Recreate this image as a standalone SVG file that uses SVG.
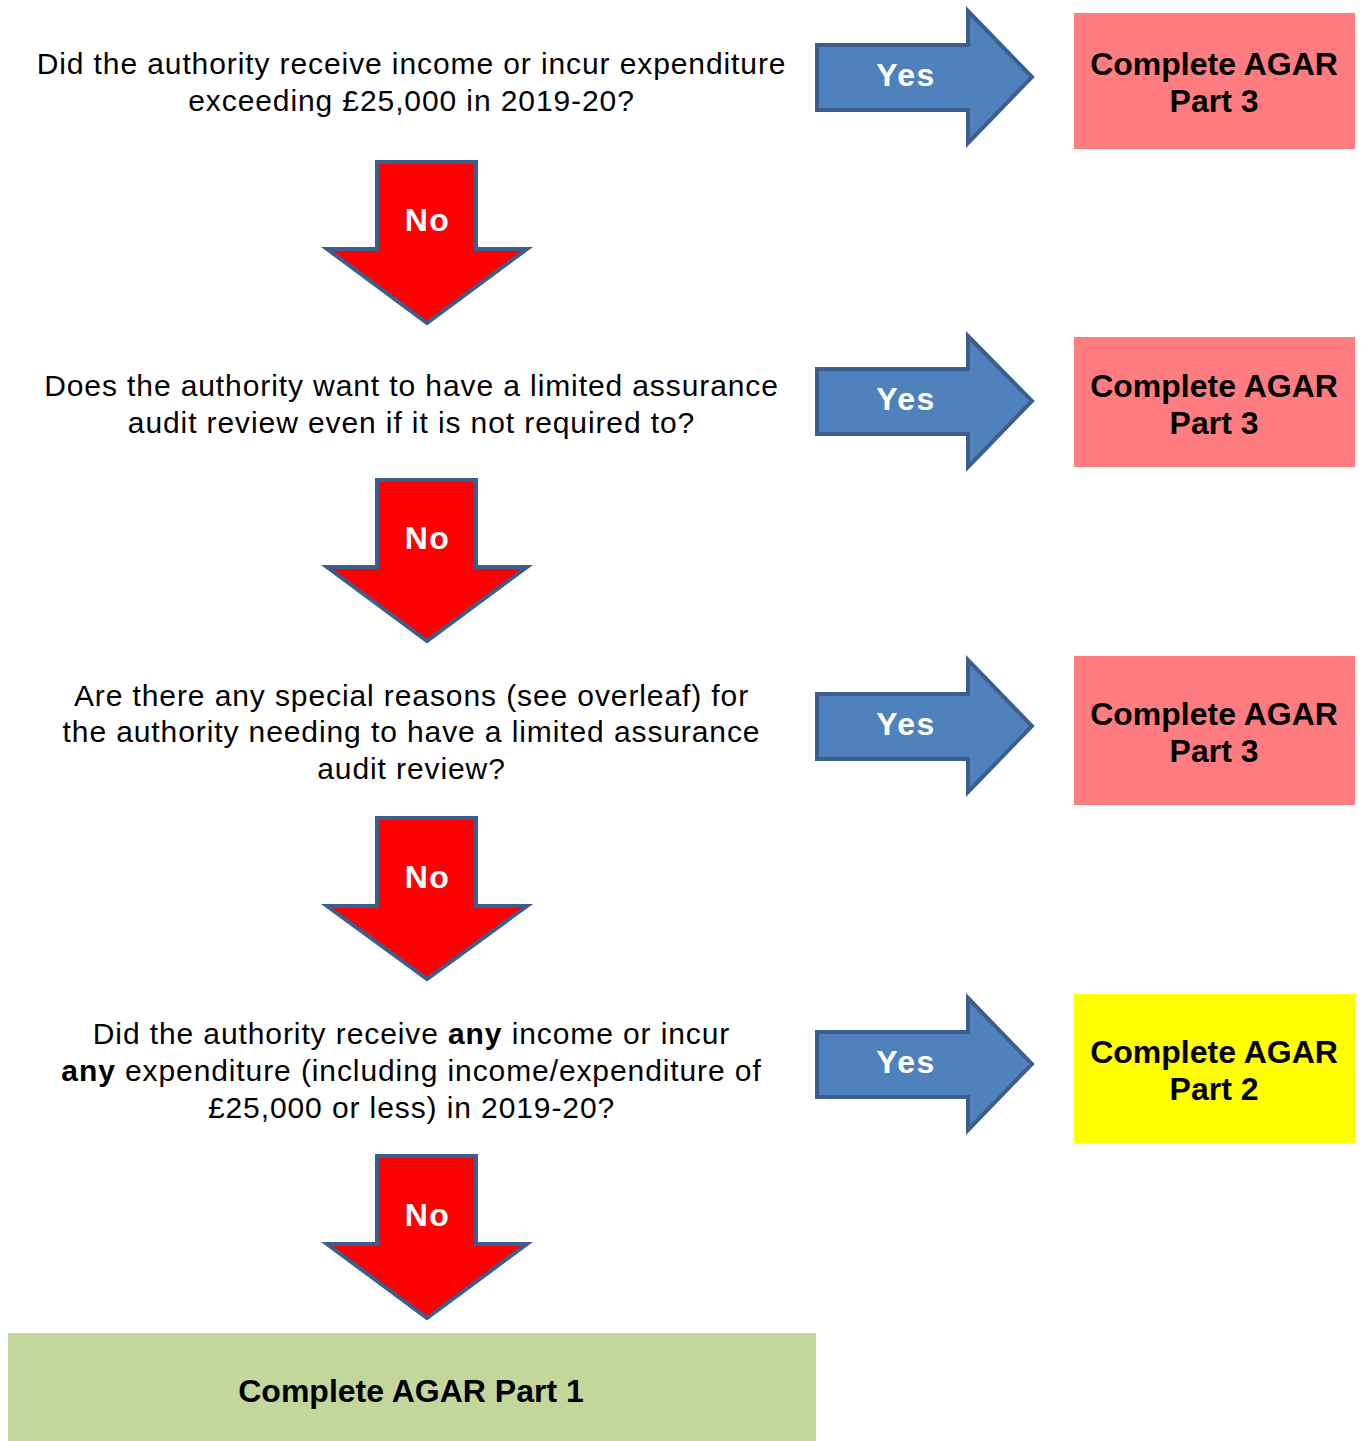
<svg xmlns="http://www.w3.org/2000/svg" width="1361" height="1441" viewBox="0 0 1361 1441">
<style>
.q{font-family:"Liberation Sans",Arial,sans-serif;font-size:30px;letter-spacing:0.9px;fill:#000;text-anchor:middle}
.b{font-weight:bold}
.lab{font-family:"Liberation Sans",Arial,sans-serif;font-size:32px;letter-spacing:1.5px;font-weight:bold;fill:#fff;text-anchor:middle}
.bt{font-family:"Liberation Sans",Arial,sans-serif;font-size:32px;font-weight:bold;fill:#000;text-anchor:middle}
.yes{fill:#4f81bd;stroke:#3b5e8c;stroke-width:4;stroke-linejoin:miter}
.no{fill:#ff0000;stroke:#3b5e8c;stroke-width:4;stroke-linejoin:miter}
</style>
<rect width="1361" height="1441" fill="#fff"/>
<g id="connectors">
<g id="yes1"><polygon class="yes" points="817,45 968,45 968,11 1032,77 968,143 968,110 817,110"/><text class="lab" x="906" y="86">Yes</text></g>
<g id="yes2"><polygon class="yes" points="817,369 968,369 968,336 1032,401 968,467 968,434 817,434"/><text class="lab" x="906" y="410">Yes</text></g>
<g id="yes3"><polygon class="yes" points="817,694 968,694 968,660 1032,726 968,792 968,759 817,759"/><text class="lab" x="906" y="735">Yes</text></g>
<g id="yes4"><polygon class="yes" points="817,1032 968,1032 968,998 1032,1064 968,1130 968,1097 817,1097"/><text class="lab" x="906" y="1073">Yes</text></g>
<g id="no1"><polygon class="no" points="377,162 476,162 476,249 527,249 427,323 327,249 377,249"/><text class="lab" x="427.5" y="231">No</text></g>
<g id="no2"><polygon class="no" points="377,480 476,480 476,567 527,567 427,641 327,567 377,567"/><text class="lab" x="427.5" y="549">No</text></g>
<g id="no3"><polygon class="no" points="377,818 476,818 476,906 527,906 427,979 327,906 377,906"/><text class="lab" x="427.5" y="888">No</text></g>
<g id="no4"><polygon class="no" points="377,1156 476,1156 476,1244 527,1244 427,1318 327,1244 377,1244"/><text class="lab" x="427.5" y="1226">No</text></g>
</g>
<g id="q1"><text class="q" x="411.5" y="74">Did the authority receive income or incur expenditure</text><text class="q" x="411.5" y="111">exceeding £25,000 in 2019-20?</text></g>
<g id="q2"><text class="q" x="411.5" y="396">Does the authority want to have a limited assurance</text><text class="q" x="411.5" y="433">audit review even if it is not required to?</text></g>
<g id="q3"><text class="q" x="411.5" y="706">Are there any special reasons (see overleaf) for</text><text class="q" x="411.5" y="742">the authority needing to have a limited assurance</text><text class="q" x="411.5" y="779">audit review?</text></g>
<g id="q4"><text class="q" x="411.5" y="1044">Did the authority receive <tspan class="b">any</tspan> income or incur</text><text class="q" x="411.5" y="1081"><tspan class="b">any</tspan> expenditure (including income/expenditure of</text><text class="q" x="411.5" y="1118">£25,000 or less) in 2019-20?</text></g>
<g id="box1"><rect x="1074" y="13" width="281" height="136" fill="#ff7c80"/><text class="bt" x="1214" y="75">Complete AGAR</text><text class="bt" x="1214" y="112">Part 3</text></g>
<g id="box2"><rect x="1074" y="337" width="281" height="130" fill="#ff7c80"/><text class="bt" x="1214" y="397">Complete AGAR</text><text class="bt" x="1214" y="434">Part 3</text></g>
<g id="box3"><rect x="1074" y="656" width="281" height="149" fill="#ff7c80"/><text class="bt" x="1214" y="725">Complete AGAR</text><text class="bt" x="1214" y="762">Part 3</text></g>
<g id="box4"><rect x="1074" y="994" width="281" height="149" fill="#ffff00"/><text class="bt" x="1214" y="1063">Complete AGAR</text><text class="bt" x="1214" y="1100">Part 2</text></g>
<g id="box5"><rect x="8" y="1333" width="808" height="108" fill="#c3d69b"/><text class="bt" x="411" y="1402">Complete AGAR Part 1</text></g>
</svg>
